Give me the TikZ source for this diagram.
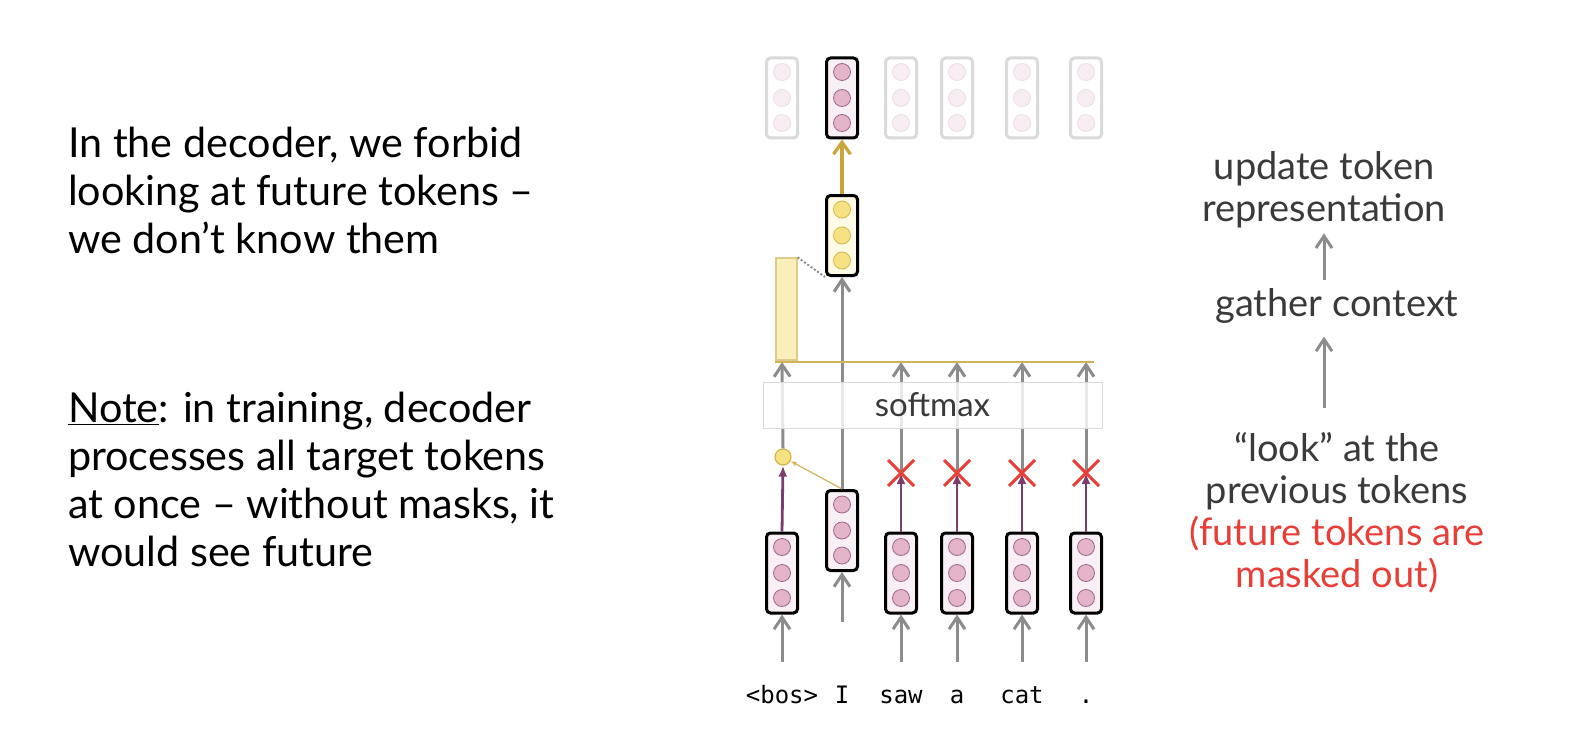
\documentclass[tikz,border=0pt]{standalone}
\usepackage{fontspec}
\setmainfont{Lato}
\newfontfamily\tokfont{DejaVu Sans Mono}
\usetikzlibrary{arrows.meta, shapes.misc}
\definecolor{myink}{RGB}{58,58,58}
\definecolor{myred}{RGB}{232,62,56}
\definecolor{mygray}{RGB}{140,140,140}
\definecolor{mygold}{RGB}{200,166,58}
\definecolor{mypurple}{RGB}{122,62,108}
\definecolor{dotpink}{RGB}{228,180,200}
\definecolor{dotedge}{RGB}{160,100,140}
\definecolor{boxpink}{RGB}{248,240,244}
\definecolor{dotyellow}{RGB}{246,226,130}
\definecolor{dotyedge}{RGB}{212,182,72}
\definecolor{boxyellow}{RGB}{255,251,230}
\definecolor{fadeedge}{RGB}{218,218,218}
\definecolor{fadedot}{RGB}{247,237,242}
\definecolor{fadedotedge}{RGB}{235,222,229}

\tikzset{
  vecbox/.style={draw=black, line width=3, rounded corners=4, fill=boxpink,
    minimum width=31, minimum height=80, inner sep=0},
  fadebox/.style={vecbox, draw=fadeedge, fill=white},
  ybox/.style={vecbox, fill=boxyellow},
  dot/.style={circle, draw=dotedge, fill=dotpink, line width=0.8, minimum size=17, inner sep=0},
  fadedot/.style={dot, draw=fadedotedge, fill=fadedot},
  ydot/.style={dot, draw=dotyedge, fill=dotyellow},
  grayarrow/.style={-{Straight Barb[length=12pt,width=16pt]}, draw=mygray, line width=3},
  goldarrow/.style={-{Straight Barb[length=12pt,width=17pt]}, draw=mygold, line width=3.2},
  purplearrow/.style={-{Latex[length=11pt,width=9pt]}, draw=mypurple, line width=2.8},
  maskx/.style={cross out, draw=myred, line width=3, minimum size=23, inner sep=0},
  token/.style={anchor=base, font=\tokfont\fontsize{24}{24}\selectfont},
  sidetext/.style={align=center, text=myink, font=\fontsize{38}{42}\selectfont}
}
% three dots inside a vector box
\newcommand{\vecdots}[2]{%
  \foreach \k/\dy in {1/26,2/0,3/-25}
    \node[#2] (#1d\k) at ([yshift=\dy]#1.center) {};
}

\begin{document}
\begin{tikzpicture}[x=1pt,y=-1pt]
\useasboundingbox (0,0) rectangle (1570,746);

% left text
\node[anchor=north west, inner sep=0, align=left, font=\fontsize{41.3}{48}\selectfont] (intro) at (68,126.5)
  {In the decoder, we forbid\\looking at future tokens --\\we don’t know them};
\node[anchor=north west, inner sep=0, align=left, font=\fontsize{41.3}{48}\selectfont] (note) at (68,391.5)
  {\underline{Note}: in training, decoder\\processes all target tokens\\at once -- without masks, it\\would see future};

% output vectors on top
\foreach \i/\x in {1/782,3/901,4/957,5/1022,6/1086}{
  \node[fadebox] (o\i) at (\x,98) {};
  \vecdots{o\i}{fadedot}
}
\node[vecbox] (o2) at (842,98) {};
\vecdots{o2}{dot}

% gathered context vector
\node[ybox] (yb) at (842,235.5) {};
\vecdots{yb}{ydot}
\draw[goldarrow] (yb.north) -- (o2.south);

% input vectors and tokens
\foreach \i/\x/\y/\t in {1/782/573/{<bos>},3/901/573/saw,4/957/573/a,5/1022/573/cat,6/1086/573/.}{
  \node[vecbox] (e\i) at (\x,\y) {};
  \vecdots{e\i}{dot}
  \node[token] (t\i) at (\x,703) {\t};
  \coordinate (b\i) at (\x,662);
  \draw[grayarrow] (b\i) -- (e\i.south);
  \coordinate (l\i) at (\x,362);
}
\node[vecbox] (e2) at (842,530.5) {};
\vecdots{e2}{dot}
\node[token] (t2) at (842,703) {I};
\coordinate (b2) at (842,622);
\draw[grayarrow] (b2) -- (e2.south);

% query for <bos>
\node[circle, draw=dotyedge, fill=dotyellow, line width=1.2, minimum size=16, inner sep=0] (c1) at (783,457) {};
\draw[grayarrow] (c1.north) -- (l1);
\draw[purplearrow] (e1.north) -- (c1.south);
\draw[-{Latex[length=6pt,width=5pt]}, draw=mygold!80, line width=1.3] (e2.north) -- (c1);

% masked future tokens
\foreach \i/\x in {3/901,4/957,5/1022,6/1086}{
  \coordinate (xc\i) at (\x,473);
  \draw[grayarrow] (xc\i) -- (l\i);
  \draw[purplearrow] (e\i.north) -- (xc\i);
  \node[maskx] (x\i) at (xc\i) {};
}

% current token goes up
\draw[grayarrow] (e2.north) -- (yb.south);

% softmax and attention weights
\node[draw=fadeedge, line width=1, fill=white, fill opacity=0.8, text opacity=1, text=myink,
  minimum width=339, minimum height=46, font=\fontsize{33}{33}\selectfont] (sm) at (932.5,405) {softmax};
\coordinate (ylL) at (775,362);
\coordinate (ylR) at (1094,362);
\draw[mygold!85, line width=2.2] (ylL) -- (ylR);
\node[draw=mygold!60, fill=dotyellow!55, line width=1.2, minimum width=21, minimum height=102, inner sep=0] (bar) at (786.5,309) {};
\draw[mygray, dotted, line width=2] (bar.north east) -- (yb.south west);

% right side text
\node[sidetext] (upd) at (1324,189.5) {update token\\representation};
\node[sidetext] (gat) at (1337,305.5) {gather context};
\node[sidetext] (look) at (1337,513) {“look” at the\\previous tokens\\\textcolor{myred}{(future tokens are}\\\textcolor{myred}{masked out)}};
\draw[grayarrow, shorten <=21, shorten >=10] (look.north -| upd) -- (gat.south -| upd);
\draw[grayarrow, shorten <=5, shorten >=2] (gat.north -| upd) -- (upd.south);

\end{tikzpicture}
\end{document}
